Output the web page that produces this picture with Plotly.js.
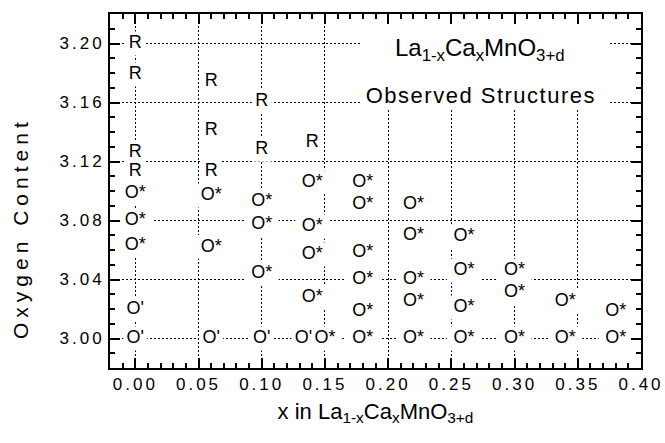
<!DOCTYPE html>
<html>
<head>
<meta charset="utf-8">
<script src="https://cdn.plot.ly/plotly-3.0.1.min.js"></script>
<style>
  html, body { margin: 0; padding: 0; background: #fff; }
  #chart { width: 665px; height: 443px; }
  /* widely tracked lettering on the tick labels, the caption and the vertical title */
  .xtick text, .ytick text { letter-spacing: 3px; }
  .annotation[data-index="1"] text { letter-spacing: 1.5px; }
  .annotation[data-index="2"] text { letter-spacing: 5px; }
</style>
</head>
<body>
<div id="chart"></div>
<script>
// Observed structures of La(1-x)Ca(x)MnO(3+d): Ca content x against oxygen content.
// R = rhombohedral, O* and O' = the two orthorhombic forms.

const rhombX = [0.00, 0.00, 0.00, 0.00, 0.06, 0.06, 0.06, 0.10, 0.10, 0.14];
const rhombY = [3.200, 3.179, 3.126, 3.113, 3.174, 3.141, 3.113, 3.161, 3.128, 3.133];

const orthoStarX = [0.00, 0.00, 0.00,
                    0.06, 0.06,
                    0.10, 0.10, 0.10,
                    0.14, 0.14, 0.14, 0.14, 0.15,
                    0.18, 0.18, 0.18, 0.18, 0.18, 0.18,
                    0.22, 0.22, 0.22, 0.22, 0.22,
                    0.26, 0.26, 0.26, 0.26,
                    0.30, 0.30, 0.30,
                    0.34, 0.34,
                    0.38, 0.38];
const orthoStarY = [3.098, 3.080, 3.063,
                    3.097, 3.062,
                    3.093, 3.077, 3.044,
                    3.106, 3.076, 3.057, 3.028, 3.000,
                    3.106, 3.091, 3.058, 3.040, 3.018, 3.000,
                    3.091, 3.070, 3.040, 3.025, 3.000,
                    3.069, 3.046, 3.021, 3.000,
                    3.046, 3.031, 3.000,
                    3.025, 3.000,
                    3.018, 3.000];

const orthoPrimeX = [0.00, 0.00, 0.06, 0.10, 0.133];
const orthoPrimeY = [3.020, 3.000, 3.000, 3.000, 3.000];

// axis extents and tick spacing
const xRange = [-0.02, 0.40];
const yRange = [2.98, 3.22];
const xTickStep = 0.05;
const yTickStep = 0.04;
const minorStep = 0.01;

const FONT = 'Liberation Sans, Arial, Helvetica, sans-serif';
const INK = '#000';

// one text-only trace per structure type
function phaseTrace(xs, ys, label) {
  return {
    type: 'scatter', mode: 'text',
    x: xs, y: ys,
    text: xs.map(() => label),
    textposition: 'middle center',
    textfont: { family: FONT, size: 18, color: INK },
    hoverinfo: 'skip', showlegend: false, cliponaxis: false
  };
}

// white patch behind each label so the dotted grid breaks around it
function knockouts(xs, ys, halfW) {
  return xs.map((x, i) => ({
    type: 'rect', layer: 'between',
    xref: 'x', yref: 'y',
    xsizemode: 'pixel', ysizemode: 'pixel',
    xanchor: x, yanchor: ys[i],
    x0: -halfW, x1: halfW, y0: -12, y1: 12,
    fillcolor: '#fff', line: { width: 0 }
  }));
}

const data = [
  phaseTrace(rhombX, rhombY, 'R'),
  phaseTrace(orthoStarX, orthoStarY, 'O*'),
  phaseTrace(orthoPrimeX, orthoPrimeY, "O'")
];

const shapes = [].concat(
  knockouts(rhombX, rhombY, 10),
  knockouts(orthoStarX, orthoStarY, 17),
  knockouts(orthoPrimeX, orthoPrimeY, 12),
  [{ // clear area behind the caption block
    type: 'rect', layer: 'between', xref: 'x', yref: 'y',
    x0: 0.178, x1: 0.3755, y0: 3.155, y1: 3.22,
    fillcolor: '#fff', line: { width: 0 }
  }]
);

function axis(range, tick0, step) {
  return {
    range: range, tickmode: 'linear', tick0: tick0, dtick: step,
    showline: true, linecolor: INK, linewidth: 2, mirror: 'ticks',
    ticks: 'inside', ticklen: 10, tickwidth: 2, tickcolor: INK,
    showgrid: true, gridcolor: INK, gridwidth: 1, griddash: '2px,2px',
    zeroline: false, tickformat: '.2f', ticklabelstandoff: 0,
    tickfont: { family: FONT, size: 17, color: INK },
    minor: { tickmode: 'linear', tick0: tick0, dtick: minorStep, ticks: 'inside',
             ticklen: 5, tickwidth: 2, tickcolor: INK, showgrid: false }
  };
}

const layout = {
  width: 665, height: 443,
  margin: { l: 110, r: 24, t: 14, b: 75 },
  paper_bgcolor: '#fff', plot_bgcolor: '#fff',
  font: { family: FONT, color: INK },
  showlegend: false,
  xaxis: Object.assign(axis(xRange, 0, xTickStep), {
    title: { text: 'x in La<sub>1-x</sub>Ca<sub>x</sub>MnO<sub>3+d</sub>',
             font: { family: FONT, size: 22, color: INK }, standoff: 10 }
  }),
  yaxis: axis(yRange, 3.00, yTickStep),
  shapes: shapes,
  annotations: [
    { xref: 'paper', yref: 'paper', x: 0.533, y: 0.949, xanchor: 'left', yanchor: 'top',
      showarrow: false, text: 'La<sub>1-x</sub>Ca<sub>x</sub>MnO<sub>3+d</sub>',
      font: { family: FONT, size: 24, color: INK } },
    { xref: 'paper', yref: 'paper', x: 0.6996, y: 0.8107, xanchor: 'center', yanchor: 'top',
      showarrow: false, text: 'Observed Structures',
      font: { family: FONT, size: 22, color: INK } },
    { // vertical axis title
      xref: 'paper', yref: 'paper', x: -0.1676, y: 0.3955, xanchor: 'center', yanchor: 'middle',
      showarrow: false, textangle: -90, text: 'Oxygen Content',
      font: { family: FONT, size: 21, color: INK } }
  ]
};

Plotly.newPlot('chart', data, layout, { staticPlot: true, displayModeBar: false });
</script>
</body>
</html>
